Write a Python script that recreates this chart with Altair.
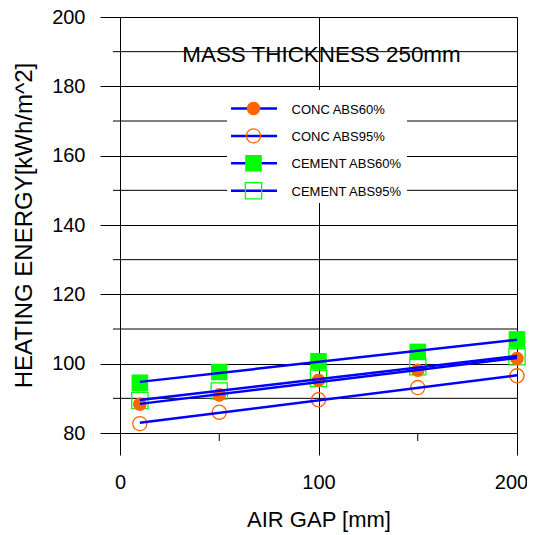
import altair as alt
import pandas as pd

# ---- data ----
air_gap = [10, 50, 100, 150, 200]
conc_abs60 = [88.3, 91.0, 95.2, 98.1, 101.5]
conc_abs95 = [82.7, 86.0, 89.6, 93.1, 96.5]
cement_abs60 = [94.5, 97.6, 100.7, 103.4, 107.0]
cement_abs95 = [89.4, 92.1, 95.7, 99.1, 102.0]

series_names = ["CONC ABS60%", "CONC ABS95%", "CEMENT ABS60%", "CEMENT ABS95%"]
series_values = [conc_abs60, conc_abs95, cement_abs60, cement_abs95]

y_major = [80, 100, 120, 140, 160, 180, 200]
y_minor = [90, 110, 130, 150, 170, 190]
x_major = [0, 100, 200]
x_minor = [50, 150]

title_text = "MASS THICKNESS 250mm"

# ---- styles ----
ORANGE = "#ff6600"
GREEN = "#00ff00"
BLUE = "#0000ff"
FONT = "Liberation Sans"
W, H = 397, 416

styles = {
    "CONC ABS60%": dict(shape="circle", filled=True, color=ORANGE, size=185),
    "CONC ABS95%": dict(shape="circle", filled=False, color=ORANGE, size=200),
    "CEMENT ABS60%": dict(shape="square", filled=True, color=GREEN, size=275),
    "CEMENT ABS95%": dict(shape="square", filled=False, color=GREEN, size=265),
}

rows = []
for name, vals in zip(series_names, series_values):
    for xv, yv in zip(air_gap, vals):
        rows.append({"series": name, "gap": xv, "energy": yv})
df = pd.DataFrame(rows)

xscale = alt.Scale(domain=[0, 200], nice=False, zero=False)
yscale = alt.Scale(domain=[80, 200], nice=False, zero=False)

xaxis = alt.Axis(values=x_major, tickSize=22, tickColor="black", grid=True,
                 gridColor="black", gridOpacity=1, domainColor="black", labelFlush=False,
                 labelOffset={"expr": "datum.value == 200 ? -6 : 0"},
                 labelFontSize=20, labelFont=FONT, labelColor="black", labelPadding=17,
                 title="AIR GAP [mm]", titleFontSize=22, titleFont=FONT,
                 titleFontWeight="normal", titleColor="black", titlePadding=17)
yaxis = alt.Axis(values=y_major, tickSize=20, tickColor="black", grid=True,
                 gridColor="black", gridOpacity=1, domainColor="black", labelFlush=False,
                 labelFontSize=20, labelFont=FONT, labelColor="black", labelPadding=15,
                 title="HEATING ENERGY[kWh/m^2]", titleFontSize=24, titleFont=FONT,
                 titleFontWeight="normal", titleColor="black", titlePadding=15)

base = alt.Chart(df)

# axes layer (invisible points just to carry axes)
axes_layer = base.mark_point(opacity=0).encode(
    x=alt.X("gap:Q", scale=xscale, axis=xaxis),
    y=alt.Y("energy:Q", scale=yscale, axis=yaxis),
)

minor_h = alt.Chart(pd.DataFrame({"v": y_minor})).mark_rule(color="black", strokeWidth=1).encode(
    y=alt.Y("v:Q", scale=yscale), x=alt.value(-7), x2=alt.value(W))
minor_x = alt.Chart(pd.DataFrame({"v": x_minor})).mark_rule(color="black", strokeWidth=1).encode(
    x=alt.X("v:Q", scale=xscale), y=alt.value(H), y2=alt.value(H + 8))

legend_box = alt.Chart(pd.DataFrame({"k": [0]})).mark_rect(color="white").encode(
    x=alt.value(107), x2=alt.value(287), y=alt.value(73), y2=alt.value(186))

marker_layers = []
for name in ["CEMENT ABS60%", "CEMENT ABS95%", "CONC ABS60%", "CONC ABS95%"]:
    st = styles[name]
    kw = dict(shape=st["shape"], size=st["size"], opacity=1)
    if st["filled"]:
        mk = base.mark_point(filled=True, color=st["color"], **kw)
    else:
        mk = base.mark_point(filled=False, color=st["color"], strokeWidth=1.3, **kw)
    marker_layers.append(
        mk.transform_filter(alt.datum.series == name).encode(
            x=alt.X("gap:Q", scale=xscale), y=alt.Y("energy:Q", scale=yscale)))

reg = base.transform_regression("gap", "energy", groupby=["series"]).mark_line(
    color=BLUE, strokeWidth=2.5).encode(
    x=alt.X("gap:Q", scale=xscale), y=alt.Y("energy:Q", scale=yscale), detail="series:N")

legend_layers = []
for i, name in enumerate(series_names):
    st = styles[name]
    yy = 91.5 + i * 27.4
    one = alt.Chart(pd.DataFrame({"label": [name]}))
    legend_layers.append(one.mark_rule(color=BLUE, strokeWidth=2.5).encode(
        x=alt.value(111), x2=alt.value(157), y=alt.value(yy)))
    if st["filled"]:
        m = one.mark_point(filled=True, color=st["color"], shape=st["shape"], size=st["size"], opacity=1)
    else:
        m = one.mark_point(filled=False, color=st["color"], shape=st["shape"], size=st["size"],
                           strokeWidth=1.3, opacity=1)
    legend_layers.append(m.encode(x=alt.value(133.5), y=alt.value(yy)))
    legend_layers.append(one.mark_text(align="left", baseline="middle", fontSize=13, font=FONT,
                                       color="black").encode(
        text="label:N", x=alt.value(171.5), y=alt.value(yy + 1)))

title_layer = alt.Chart(pd.DataFrame({"t": [title_text]})).mark_text(
    align="center", baseline="middle", fontSize=22.4, font=FONT, color="black").encode(
    text="t:N", x=alt.value(201.5), y=alt.value(38))

chart = alt.layer(axes_layer, minor_h, minor_x, legend_box, *marker_layers, reg,
                  *legend_layers, title_layer).properties(
    width=W, height=H,
    autosize=alt.AutoSizeParams(type="none"),
    padding={"left": 112, "top": 9, "right": 10, "bottom": 100},
).configure_view(strokeWidth=0).configure(background="white")

chart.save("out.html", embed_options={"renderer": "svg", "actions": False})
